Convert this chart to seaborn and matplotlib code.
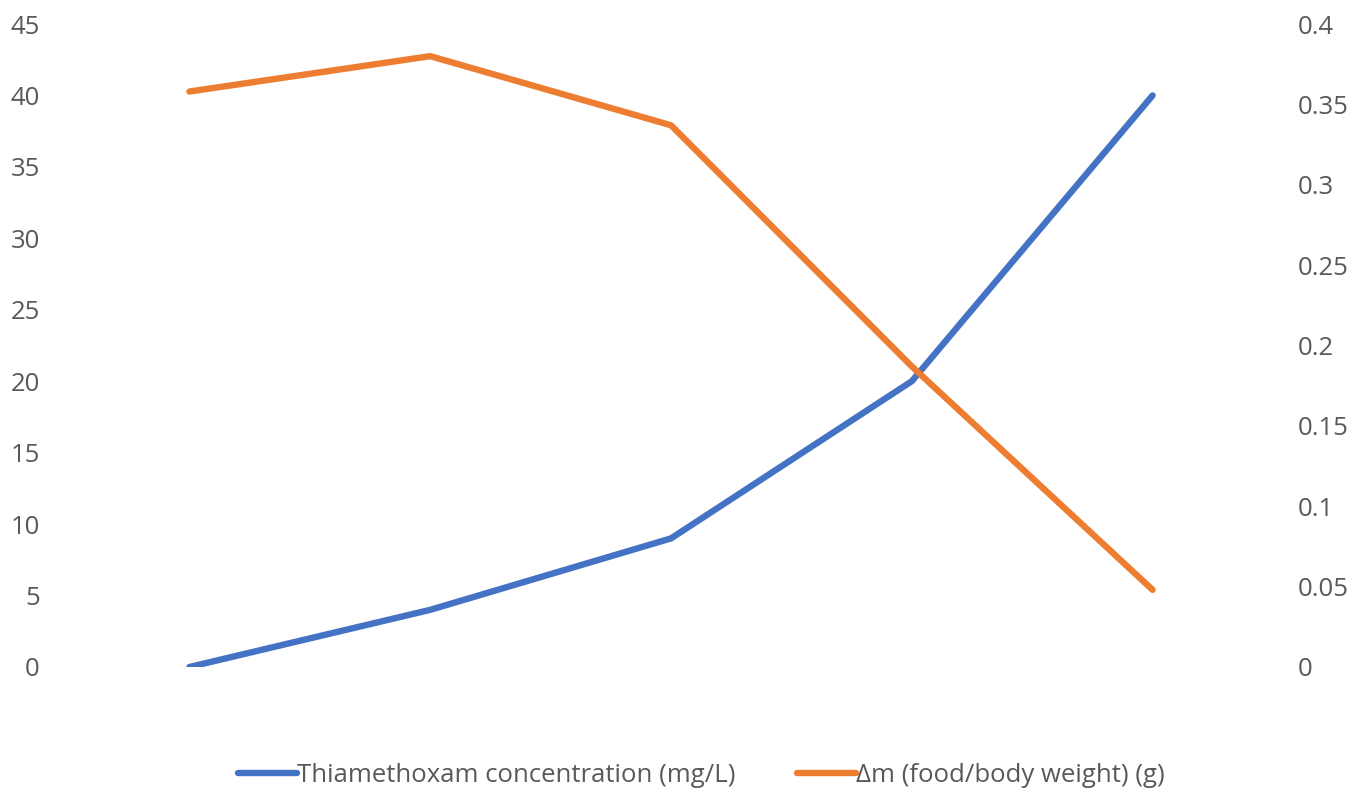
import pandas as pd
import seaborn as sns
import matplotlib.pyplot as plt
from matplotlib.lines import Line2D

# Data
groups = ['1', '2', '3', '4', '5']
concentration = [0, 4, 9, 20, 40]
delta_m = [0.358, 0.380, 0.337, 0.187, 0.048]

df = pd.DataFrame({'group': groups, 'conc': concentration, 'dm': delta_m})
df['pos'] = range(len(df))

blue = '#4472C4'
orange = '#ED7D31'
grey = '#595959'

sns.set_style('white')
plt.rcParams['font.family'] = ['Open Sans', 'DejaVu Sans']

fig = plt.figure(figsize=(13.64, 8), dpi=100)
ax = fig.add_axes([69 / 1364, 1 - 667 / 800, (1273 - 69) / 1364, (667 - 24) / 800])
ax2 = ax.twinx()

sns.lineplot(data=df, x='pos', y='conc', ax=ax, color=blue, lw=4.6,
             solid_capstyle='round', solid_joinstyle='round')
sns.lineplot(data=df, x='pos', y='dm', ax=ax2, color=orange, lw=4.6,
             solid_capstyle='round', solid_joinstyle='round')

ax.set_xlim(-0.5, 4.5)
ax.set_ylim(0, 45)
ax2.set_ylim(0, 0.4)
ax.set_yticks(range(0, 46, 5))
ax2.set_yticks([0, 0.05, 0.1, 0.15, 0.2, 0.25, 0.3, 0.35, 0.4])
ax2.set_yticklabels(['0', '0.05', '0.1', '0.15', '0.2', '0.25', '0.3', '0.35', '0.4'])
ax.set_xticks([])

for a in (ax, ax2):
    a.set_xlabel('')
    a.set_ylabel('')
    for s in a.spines.values():
        s.set_visible(False)
    a.tick_params(axis='y', length=0, labelsize=18.5, labelcolor=grey)
ax.tick_params(axis='y', pad=21)
ax2.tick_params(axis='y', pad=18)

handles = [Line2D([], [], color=blue, lw=4.6, solid_capstyle='round'),
           Line2D([], [], color=orange, lw=4.6, solid_capstyle='round')]
labels = ['Thiamethoxam concentration (mg/L)', 'Δm (food/body weight) (g)']
fig.legend(handles, labels, loc='center', bbox_to_anchor=(0.514, 0.031), ncol=2,
           frameon=False, fontsize=18.5, labelcolor=grey, handlelength=2.3,
           handletextpad=0.0, columnspacing=2.4)

fig.savefig('out.png', dpi=100)
